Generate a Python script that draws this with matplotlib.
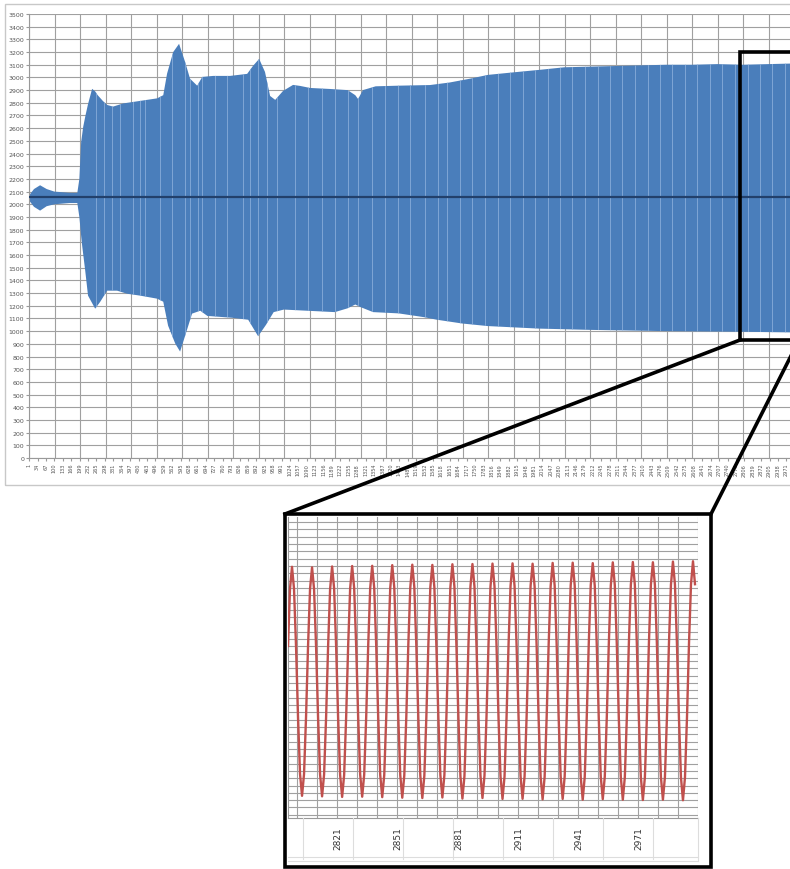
import numpy as np
import matplotlib.pyplot as plt
from matplotlib.patches import Rectangle
from matplotlib.lines import Line2D
from matplotlib.ticker import FixedLocator

# upper / lower envelope of the blue signal (sample index, value)
gora_s = [1, 20, 44, 70, 100, 130, 160, 190, 198, 205, 213, 222, 232, 248, 260, 270,
          290, 307, 330, 370, 436, 503, 527, 542, 566, 589, 613, 632, 660, 680, 723,
          789, 856, 879, 903, 926, 946, 966, 997, 1036, 1064, 1103, 1181, 1250, 1280,
          1291, 1310, 1360, 1450, 1573, 1650, 1730, 1800, 1900, 2004, 2100, 2200,
          2300, 2400, 2500, 2600, 2700, 2800, 2900, 3000]
gora_v = [2070, 2120, 2150, 2120, 2100, 2095, 2090, 2090, 2200, 2490, 2610, 2700, 2790,
          2910, 2890, 2860, 2815, 2783, 2770, 2795, 2815, 2835, 2860, 3030, 3200, 3265,
          3120, 2990, 2935, 3004, 3012, 3012, 3028, 3091, 3146, 3043, 2854, 2823, 2894,
          2941, 2933, 2917, 2909, 2900, 2860, 2830, 2900, 2930, 2935, 2940, 2960, 2990,
          3020, 3040, 3060, 3080, 3085, 3090, 3095, 3100, 3100, 3105, 3100, 3105, 3110]
dol_s = [1, 20, 44, 70, 100, 130, 160, 190, 198, 205, 209, 221, 232, 260, 280, 307, 346,
         385, 436, 503, 527, 546, 574, 593, 613, 640, 672, 700, 800, 860, 899, 930, 960,
         1000, 1100, 1200, 1250, 1280, 1300, 1350, 1450, 1550, 1600, 1700, 1800, 1900,
         2000, 2200, 2500, 2800, 3000]
dol_v = [2030, 1980, 1950, 1985, 2000, 2005, 2010, 2010, 1900, 1750, 1673, 1476, 1280,
         1177, 1232, 1319, 1319, 1295, 1280, 1256, 1232, 1043, 902, 839, 965, 1138, 1161,
         1120, 1105, 1090, 960, 1050, 1150, 1170, 1160, 1150, 1180, 1210, 1190, 1150,
         1140, 1110, 1090, 1060, 1040, 1030, 1020, 1010, 1000, 995, 990]
srodek = 2055

# lighter stripes inside the band (sample index)
jasne_pasy = [263, 294, 325, 357, 408, 435, 455, 514, 561, 612, 631, 663, 678, 729, 776,
              839, 867, 898, 933, 973, 1043, 1094, 1149, 1200, 1251, 1290, 1345, 1396,
              1447, 1494, 1553, 1604, 1639, 1690, 1737, 1788, 1839, 1886, 1937, 1984,
              2035, 2082, 2129, 2180, 2231, 2278, 2325, 2376, 2427, 2475, 2522, 2573,
              2620, 2671, 2718, 2769, 2820, 2867, 2914, 2965]

# zoomed part, samples 2796..2999
zoom_start = 2796
zoom_v = [2361, 2877,
          3075, 2877, 2361, 1723, 1207, 1010, 1207, 1723, 2361, 2877,
          3070, 2873, 2357, 1719, 1203, 1005, 1203, 1719, 2357, 2873,
          3078, 2880, 2360, 1718, 1198, 1000, 1198, 1718, 2360, 2880,
          3082, 2883, 2363, 1721, 1201, 1002, 1201, 1721, 2363, 2883,
          3084, 2885, 2363, 1719, 1197, 998, 1197, 1719, 2363, 2885,
          3090, 2890, 2366, 1718, 1194, 993, 1194, 1718, 2366, 2890,
          3094, 2893, 2367, 1717, 1191, 990, 1191, 1717, 2367, 2893,
          3092, 2892, 2368, 1720, 1196, 995, 1196, 1720, 2368, 2892,
          3098, 2897, 2368, 1716, 1187, 985, 1187, 1716, 2368, 2897,
          3100, 2898, 2371, 1719, 1192, 990, 1192, 1719, 2371, 2898,
          3104, 2901, 2371, 1715, 1185, 982, 1185, 1715, 2371, 2901,
          3106, 2903, 2373, 1716, 1186, 983, 1186, 1716, 2373, 2903,
          3103, 2900, 2369, 1712, 1181, 978, 1181, 1712, 2369, 2900,
          3110, 2907, 2375, 1717, 1185, 982, 1185, 1717, 2375, 2907,
          3112, 2908, 2374, 1714, 1180, 975, 1180, 1714, 2374, 2908,
          3108, 2905, 2373, 1715, 1183, 980, 1183, 1715, 2373, 2905,
          3115, 2911, 2376, 1714, 1179, 975, 1179, 1714, 2376, 2911,
          3118, 2913, 2377, 1713, 1177, 972, 1177, 1713, 2377, 2913,
          3116, 2912, 2377, 1715, 1180, 975, 1180, 1715, 2377, 2912,
          3122, 2916, 2378, 1714, 1176, 970, 1176, 1714, 2378, 2916,
          3125, 2918]

etykiety_x = list(range(1, 2972, 33))
etykiety_zoom = [2821, 2851, 2881, 2911, 2941, 2971]

W, H = 790, 870


def fx(px):
    return px / W


def fy(py):
    return 1 - py / H


fig = plt.figure(figsize=(W / 100, H / 100), dpi=100)

# chart frame
fig.add_artist(Rectangle((fx(5), fy(486)), fx(800) - fx(5), fy(5) - fy(486),
                         transform=fig.transFigure, fill=False, edgecolor='#c8c8c8', lw=1))

ax = fig.add_axes([fx(29), fy(459), fx(790) - fx(29), fy(15) - fy(459)])
x_gora = np.array(gora_s)
x_dol = np.array(dol_s)
pasmo = ax.fill(np.r_[x_gora, x_dol[::-1]], np.r_[gora_v, dol_v[::-1]],
                color='#4a7ebb', lw=0, zorder=2)[0]
pasy = ax.vlines(jasne_pasy, 0, 3500, color='#8cb0dc', lw=0.7, alpha=0.8, zorder=2.5)
pasy.set_clip_path(pasmo)
ax.plot([1, 3000], [srodek, srodek], color='#22406b', lw=1.6, zorder=3)
ax.set_xlim(0.5, 0.5 + 761 / 0.255)
ax.set_ylim(0, 3500)
ax.set_yticks(range(0, 3600, 100))
ax.set_xticks(etykiety_x)
ax.set_xticklabels([str(e) for e in etykiety_x], rotation=90, fontsize=3.6, color='#555555')
ax.xaxis.set_minor_locator(FixedLocator(np.arange(0.5, 3000, 100)))
ax.tick_params(axis='y', labelsize=4.5, labelcolor='#555555', length=2, color='#999999', pad=1.5)
ax.tick_params(axis='x', which='major', length=2, color='#999999', pad=1.5)
ax.tick_params(axis='x', which='minor', length=0)
ax.grid(axis='y', color='#a0a0a0', lw=0.8)
ax.grid(axis='x', which='minor', color='#a0a0a0', lw=0.8)
ax.set_axisbelow(True)
for s in ['top', 'right']:
    ax.spines[s].set_visible(False)
for s in ['left', 'bottom']:
    ax.spines[s].set_color('#999999')
    ax.spines[s].set_linewidth(0.8)

# box marking the zoomed part and the connecting lines
fig.add_artist(Rectangle((fx(740), fy(341)), fx(799) - fx(740), fy(53) - fy(341),
                         transform=fig.transFigure, fill=False, edgecolor='black', lw=2.6))
fig.add_artist(Line2D([fx(740), fx(285)], [fy(341), fy(515)], color='black', lw=2.6))
fig.add_artist(Line2D([fx(799), fx(711)], [fy(341), fy(515)], color='black', lw=2.6))

# zoom panel
for xx in range(303, 660, 50):
    fig.add_artist(Line2D([fx(xx), fx(xx)], [fy(819), fy(860)], color='#dddddd', lw=0.8))
for yy in [858, 862]:
    fig.add_artist(Line2D([fx(288), fx(698)], [fy(yy), fy(yy)], color='#dddddd', lw=0.8))
fig.add_artist(Line2D([fx(698), fx(698)], [fy(819), fy(862)], color='#dddddd', lw=0.8))

axz = fig.add_axes([fx(288), fy(819), fx(698) - fx(288), fy(518) - fy(819)])
xz = np.arange(zoom_start, zoom_start + len(zoom_v))
axz.plot(xz, zoom_v, color='#c0504d', lw=1.7, zorder=3)
axz.set_xlim(2796, 3000.5)
axz.set_ylim(810, 3524)
axz.set_yticks(np.arange(3479, 810, -66))
axz.tick_params(axis='y', length=0, labelleft=False)
axz.set_xticks(etykiety_zoom)
axz.set_xticklabels([str(e) for e in etykiety_zoom], rotation=90, fontsize=6.5, color='#333333')
axz.xaxis.set_minor_locator(FixedLocator(np.arange(2800.5, 3001, 10)))
axz.tick_params(axis='x', which='major', length=0, pad=6)
axz.tick_params(axis='x', which='minor', length=0)
axz.grid(axis='y', color='#a0a0a0', lw=0.8)
axz.grid(axis='x', which='minor', color='#a0a0a0', lw=0.8)
axz.set_axisbelow(True)
for s in ['top', 'right']:
    axz.spines[s].set_visible(False)
for s in ['left', 'bottom']:
    axz.spines[s].set_color('#999999')
    axz.spines[s].set_linewidth(0.8)

fig.add_artist(Rectangle((fx(285), fy(868)), fx(711) - fx(285), fy(515) - fy(868),
                         transform=fig.transFigure, fill=False, edgecolor='black', lw=2.6))

fig.savefig('out.png', dpi=100)
